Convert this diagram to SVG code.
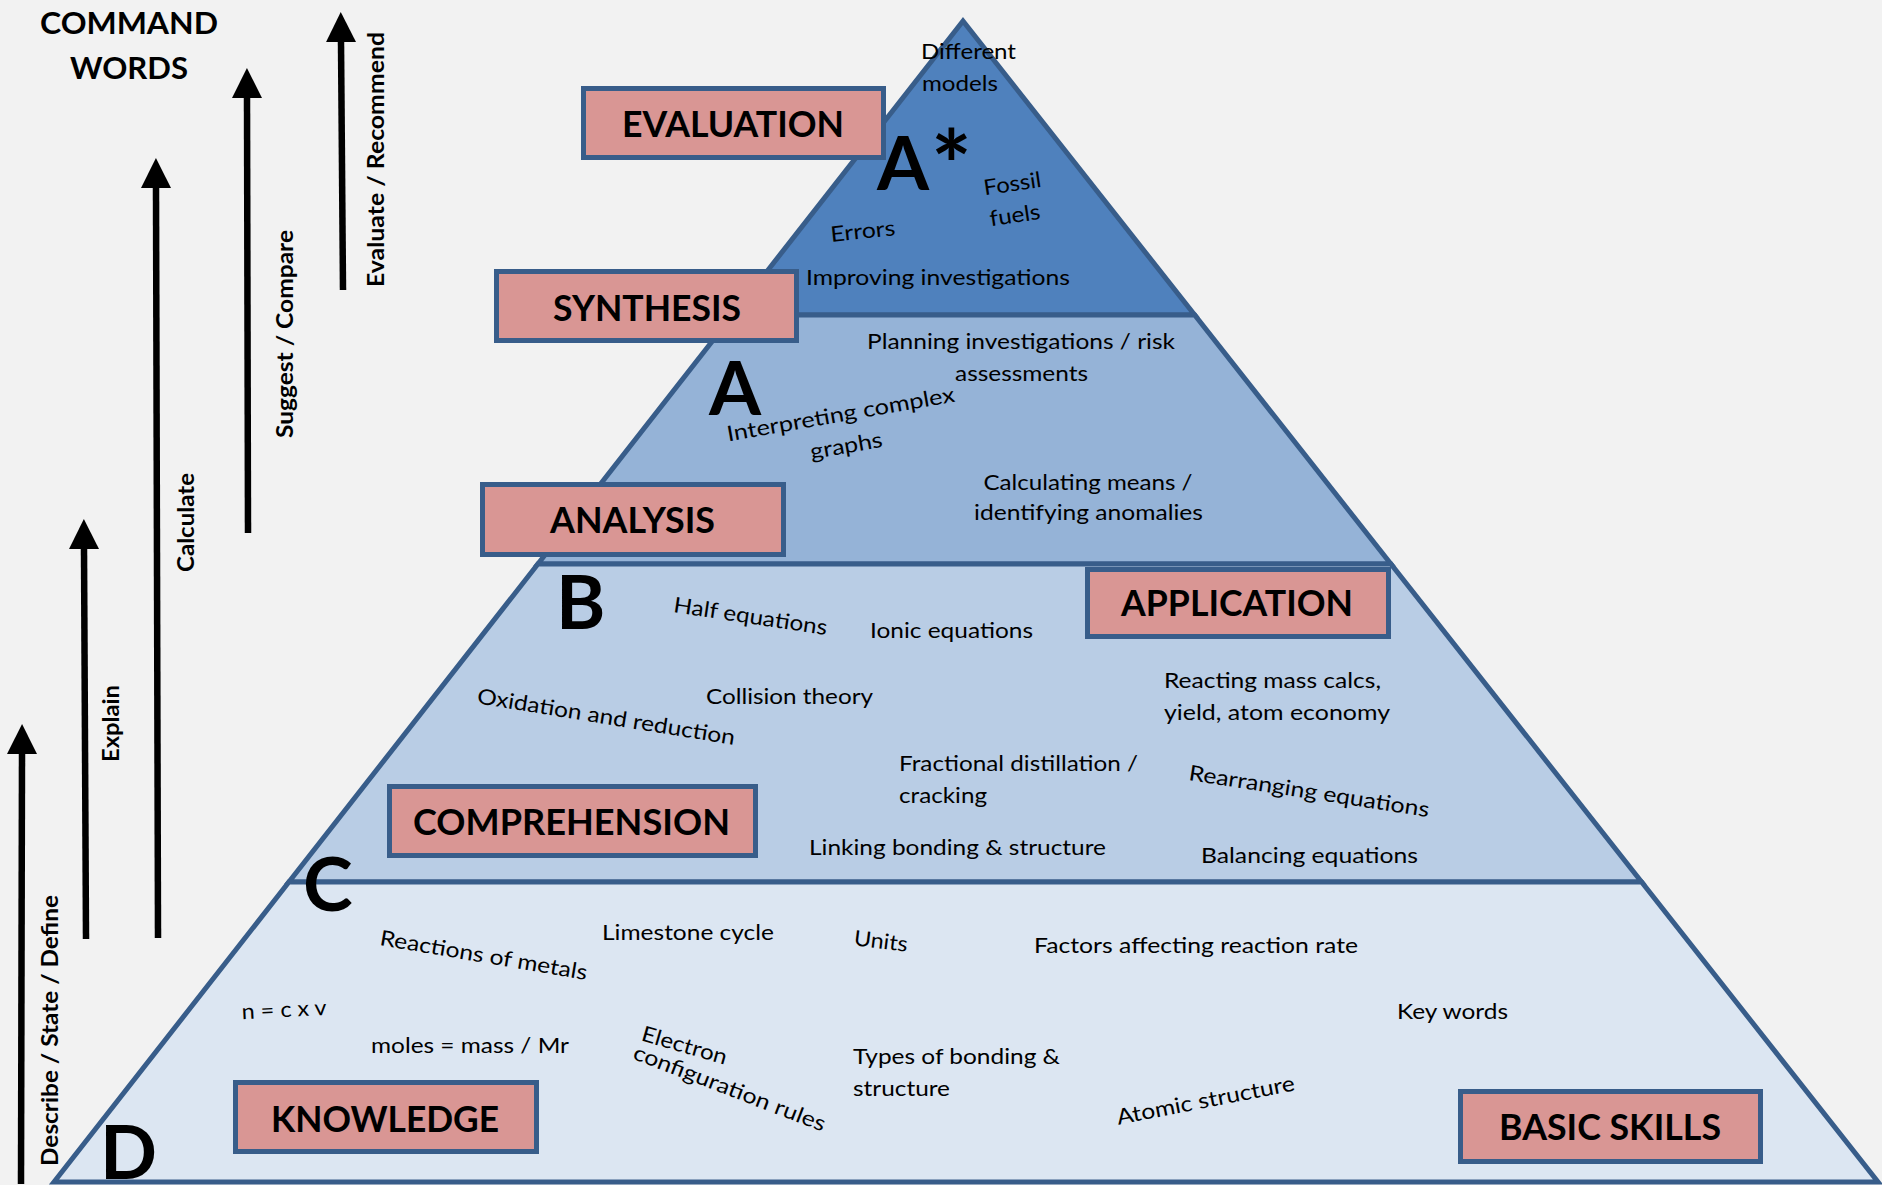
<svg xmlns="http://www.w3.org/2000/svg" width="1882" height="1185" viewBox="0 0 1882 1185">
  <defs>
    <style>
      .tier { stroke: #385d8a; stroke-width: 5; stroke-linejoin: miter; }
      .box { fill: #d99694; stroke: #385d8a; stroke-width: 5; }
      .lbl { font-family: Lato, "Open Sans", "DejaVu Sans", sans-serif; font-weight: 700; font-size: 36px; text-anchor: middle; fill: #000; }
      .t { font-family: Lato, "Open Sans", "DejaVu Sans", sans-serif; font-size: 21.5px; fill: #000; }
      .mid { text-anchor: middle; }
      .big { font-family: Lato, "Open Sans", "DejaVu Sans", sans-serif; font-weight: 700; font-size: 75px; fill: #000; }
      .cmd { font-family: Lato, "Open Sans", "DejaVu Sans", sans-serif; font-weight: 700; font-size: 23px; fill: #000; }
      .title { font-family: Lato, "Open Sans", "DejaVu Sans", sans-serif; font-weight: 700; font-size: 31px; text-anchor: middle; fill: #000; }
      .shaft { stroke: #000; stroke-width: 6.5; fill: none; marker-end: url(#head); }
    </style>
    <marker id="head" markerUnits="userSpaceOnUse" markerWidth="30" markerHeight="30" refX="0" refY="15" orient="auto" viewBox="0 0 30 30">
      <path d="M0,0 L30,15 L0,30 Z" fill="#000"/>
    </marker>
  </defs>

  <!-- background -->
  <rect x="0" y="0" width="1882" height="1185" fill="#f2f2f2"/>

  <!-- heading -->
  <g id="heading">
    <text class="title" x="129" y="34" textLength="178" lengthAdjust="spacingAndGlyphs">COMMAND</text>
    <text class="title" x="129" y="79" textLength="118" lengthAdjust="spacingAndGlyphs">WORDS</text>
  </g>

  <!-- command word arrows -->
  <g id="connectors">
    <line class="shaft" x1="343" y1="290" x2="341" y2="42"/>
    <line class="shaft" x1="248" y1="533" x2="247" y2="98"/>
    <line class="shaft" x1="158" y1="938" x2="156" y2="188"/>
    <line class="shaft" x1="86" y1="939" x2="84" y2="549"/>
    <line class="shaft" x1="21" y1="1184" x2="22" y2="754"/>
  </g>
  <g id="command-labels">
    <text class="cmd" transform="translate(384,287) rotate(-90)" textLength="255" lengthAdjust="spacingAndGlyphs">Evaluate / Recommend</text>
    <text class="cmd" transform="translate(293,438) rotate(-90)" textLength="208" lengthAdjust="spacingAndGlyphs">Suggest / Compare</text>
    <text class="cmd" transform="translate(194,572) rotate(-90)" textLength="99" lengthAdjust="spacingAndGlyphs">Calculate</text>
    <text class="cmd" transform="translate(119,762) rotate(-90)" textLength="77" lengthAdjust="spacingAndGlyphs">Explain</text>
    <text class="cmd" transform="translate(58,1166) rotate(-90)" textLength="271" lengthAdjust="spacingAndGlyphs">Describe / State / Define</text>
  </g>

  <!-- pyramid tiers, top to bottom -->
  <g id="tier-astar">
    <polygon class="tier" fill="#4f81bd" points="963,21 1194.7,315 732.8,315"/>
  </g>
  <g id="tier-a">
    <polygon class="tier" fill="#95b3d7" points="732.8,315 1194.7,315 1390.9,564 537.9,564"/>
  </g>
  <g id="tier-b">
    <polygon class="tier" fill="#b9cde5" points="537.9,564 1390.9,564 1641.6,882 288.9,882"/>
  </g>
  <g id="tier-d">
    <polygon class="tier" fill="#dce6f2" points="288.9,882 1641.6,882 1878,1182 54,1182"/>
  </g>

  <!-- grade letters -->
  <g id="grades">
    <text class="big" x="877" y="190">A</text>
    <text class="big" x="931" y="200" style="font-size:96px">*</text>
    <text class="big" x="709" y="415">A</text>
    <text class="big" x="556" y="629">B</text>
    <text class="big" x="303" y="911">C</text>
    <text class="big" x="100" y="1179">D</text>
  </g>

  <!-- topics: A* tier -->
  <g id="topics-astar">
    <text class="t" x="921" y="59" textLength="95" lengthAdjust="spacingAndGlyphs">Different</text>
    <text class="t" x="922" y="91" textLength="76" lengthAdjust="spacingAndGlyphs">models</text>
    <text class="t mid" x="863.5" y="238.5" transform="rotate(-6 863.5 238.5)" textLength="65" lengthAdjust="spacingAndGlyphs">Errors</text>
    <text class="t mid" x="1013.5" y="191" transform="rotate(-8.5 1013.5 191)" textLength="58" lengthAdjust="spacingAndGlyphs">Fossil</text>
    <text class="t mid" x="1016" y="222.5" transform="rotate(-8.5 1016 222.5)" textLength="51" lengthAdjust="spacingAndGlyphs">fuels</text>
    <text class="t" x="806" y="285" textLength="264" lengthAdjust="spacingAndGlyphs">Improving investigations</text>
  </g>

  <!-- topics: A tier -->
  <g id="topics-a">
    <text class="t mid" x="1021" y="349" textLength="308" lengthAdjust="spacingAndGlyphs">Planning investigations / risk</text>
    <text class="t mid" x="1021.5" y="381" textLength="133" lengthAdjust="spacingAndGlyphs">assessments</text>
    <g transform="rotate(-10 842 421.5)">
      <text class="t mid" x="842" y="421.5" textLength="231" lengthAdjust="spacingAndGlyphs">Interpreting complex</text>
      <text class="t mid" x="842" y="453.5" textLength="73" lengthAdjust="spacingAndGlyphs">graphs</text>
    </g>
    <text class="t mid" x="1088" y="490" textLength="209" lengthAdjust="spacingAndGlyphs">Calculating means /</text>
    <text class="t mid" x="1088.5" y="520" textLength="229" lengthAdjust="spacingAndGlyphs">identifying anomalies</text>
  </g>

  <!-- topics: B/C tier -->
  <g id="topics-b">
    <text class="t mid" x="749.5" y="623.5" transform="rotate(8.5 749.5 623.5)" textLength="155" lengthAdjust="spacingAndGlyphs">Half equations</text>
    <text class="t" x="870" y="638" textLength="163" lengthAdjust="spacingAndGlyphs">Ionic equations</text>
    <text class="t mid" x="605" y="724" transform="rotate(9.2 605 724)" textLength="261" lengthAdjust="spacingAndGlyphs">Oxidation and reduction</text>
    <text class="t" x="706" y="704" textLength="167" lengthAdjust="spacingAndGlyphs">Collision theory</text>
    <text class="t" x="899" y="771" textLength="239" lengthAdjust="spacingAndGlyphs">Fractional distillation /</text>
    <text class="t" x="899" y="803" textLength="88" lengthAdjust="spacingAndGlyphs">cracking</text>
    <text class="t" x="809" y="855" textLength="297" lengthAdjust="spacingAndGlyphs">Linking bonding &amp; structure</text>
    <text class="t" x="1164" y="688" textLength="217" lengthAdjust="spacingAndGlyphs">Reacting mass calcs,</text>
    <text class="t" x="1164" y="720" textLength="226" lengthAdjust="spacingAndGlyphs">yield, atom economy</text>
    <text class="t mid" x="1308" y="798.5" transform="rotate(8.8 1308 798.5)" textLength="243" lengthAdjust="spacingAndGlyphs">Rearranging equations</text>
    <text class="t" x="1201" y="863" textLength="217" lengthAdjust="spacingAndGlyphs">Balancing equations</text>
  </g>

  <!-- topics: D tier -->
  <g id="topics-d">
    <text class="t mid" x="482.5" y="962.5" transform="rotate(9.6 482.5 962.5)" textLength="210" lengthAdjust="spacingAndGlyphs">Reactions of metals</text>
    <text class="t" x="602" y="940" textLength="172" lengthAdjust="spacingAndGlyphs">Limestone cycle</text>
    <text class="t mid" x="880" y="948.5" transform="rotate(7 880 948.5)" textLength="54" lengthAdjust="spacingAndGlyphs">Units</text>
    <text class="t" x="1034" y="953" textLength="324" lengthAdjust="spacingAndGlyphs">Factors affecting reaction rate</text>
    <text class="t mid" x="284.5" y="1017" transform="rotate(-3 284.5 1017)" textLength="85" lengthAdjust="spacingAndGlyphs">n = c x v</text>
    <text class="t" x="371" y="1053" textLength="198" lengthAdjust="spacingAndGlyphs">moles = mass / Mr</text>
    <text class="t mid" x="682.5" y="1052.5" transform="rotate(16 682.5 1052.5)" textLength="88" lengthAdjust="spacingAndGlyphs">Electron</text>
    <text class="t mid" x="727" y="1095" transform="rotate(21 727 1095)" textLength="204" lengthAdjust="spacingAndGlyphs">configuration rules</text>
    <text class="t" x="853" y="1064" textLength="207" lengthAdjust="spacingAndGlyphs">Types of bonding &amp;</text>
    <text class="t" x="853" y="1096" textLength="97" lengthAdjust="spacingAndGlyphs">structure</text>
    <text class="t mid" x="1207" y="1107.5" transform="rotate(-11 1207 1107.5)" textLength="181" lengthAdjust="spacingAndGlyphs">Atomic structure</text>
    <text class="t" x="1397" y="1019" textLength="111" lengthAdjust="spacingAndGlyphs">Key words</text>
  </g>

  <!-- level label boxes -->
  <g id="evaluation">
    <rect class="box" x="583.5" y="88.5" width="300" height="69"/>
    <text class="lbl" x="733" y="137" textLength="222" lengthAdjust="spacingAndGlyphs">EVALUATION</text>
  </g>
  <g id="synthesis">
    <rect class="box" x="496.5" y="271.5" width="300" height="69"/>
    <text class="lbl" x="647" y="321" textLength="188" lengthAdjust="spacingAndGlyphs">SYNTHESIS</text>
  </g>
  <g id="analysis">
    <rect class="box" x="482.5" y="484.5" width="301" height="70"/>
    <text class="lbl" x="632.5" y="533" textLength="165" lengthAdjust="spacingAndGlyphs">ANALYSIS</text>
  </g>
  <g id="application">
    <rect class="box" x="1087.5" y="569.5" width="301" height="67"/>
    <text class="lbl" x="1237" y="616" textLength="232" lengthAdjust="spacingAndGlyphs">APPLICATION</text>
  </g>
  <g id="comprehension">
    <rect class="box" x="389.5" y="786.5" width="366" height="69"/>
    <text class="lbl" x="571.5" y="835" textLength="317" lengthAdjust="spacingAndGlyphs">COMPREHENSION</text>
  </g>
  <g id="knowledge">
    <rect class="box" x="235.5" y="1082.5" width="301" height="69"/>
    <text class="lbl" x="385" y="1132" textLength="228" lengthAdjust="spacingAndGlyphs">KNOWLEDGE</text>
  </g>
  <g id="basic-skills">
    <rect class="box" x="1460.5" y="1091.5" width="300" height="70"/>
    <text class="lbl" x="1610" y="1140" textLength="222" lengthAdjust="spacingAndGlyphs">BASIC SKILLS</text>
  </g>
</svg>
